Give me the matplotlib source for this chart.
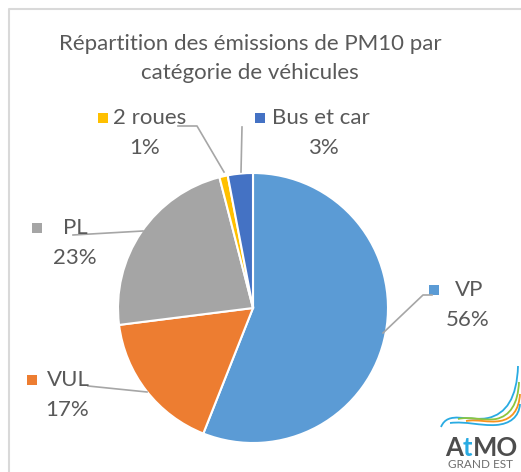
import matplotlib.pyplot as plt
from matplotlib.path import Path
from matplotlib.patches import PathPatch, Rectangle

# données
categories = ['VP', 'VUL', 'PL', '2 roues', 'Bus et car']
values = [56, 17, 23, 1, 3]
colors = ['#5B9BD5', '#ED7D31', '#A5A5A5', '#FFC000', '#4472C4']

W, H = 521, 472
TXT = '#595959'
LINE = '#A6A6A6'
FONT = 'Lato'


def fy(y):
    # coordonnées pixel (origine en haut) -> axes (origine en bas)
    return H - y


fig = plt.figure(figsize=(W / 100, H / 100), dpi=100)
ax = fig.add_axes([0, 0, 1, 1])

ax.pie(values, colors=colors, startangle=90, counterclock=False, center=(253, fy(308)),
       radius=135, wedgeprops=dict(edgecolor='white', linewidth=1.5), frame=True)
ax.set_xlim(0, W)
ax.set_ylim(0, H)
ax.set_aspect('equal')
ax.axis('off')

# cadre du graphique
ax.plot([9, 9, W + 5], [fy(H + 5), fy(9), fy(9)], color='#D9D9D9', lw=1.5)

ax.text(250, fy(44), 'Répartition des émissions de PM10 par', ha='center', va='center',
        fontsize=16, color=TXT, family=FONT)
ax.text(250, fy(73), 'catégorie de véhicules', ha='center', va='center',
        fontsize=16, color=TXT, family=FONT)

# étiquettes : (carré x, y texte nom, x nom, x pourcentage)
labels = {
    'VP': (434, 290, 455, 468),
    'VUL': (32, 380, 47, 67),
    'PL': (37, 228, 63, 75),
    '2 roues': (103, 118, 113, 145),
    'Bus et car': (260, 118, 272, 323),
}
for cat, val, col in zip(categories, values, colors):
    sx, ty, nx, px = labels[cat]
    ax.add_patch(Rectangle((sx - 5, fy(ty) - 5), 10, 10, color=col, lw=0))
    ax.text(nx, fy(ty), cat, ha='left', va='center', fontsize=16, color=TXT, family=FONT)
    ax.text(px, fy(ty + 30), f'{val}%', ha='center', va='center', fontsize=16, color=TXT,
            family=FONT)

# lignes de rappel
leaders = [
    ([432, 423, 383], [295, 295, 333]),
    ([88, 147], [386, 392]),
    ([73, 143], [235, 231]),
    ([178, 197, 224], [126, 126, 172]),
    ([242, 241], [127, 172]),
]
for xs, ys in leaders:
    ax.plot(xs, [fy(v) for v in ys], color=LINE, lw=1.2)

# logo AtMO Grand Est
ax.add_patch(Rectangle((433, fy(472)), 88, 105, color='white', lw=0, zorder=3))
swooshes = [
    ('#29ABE2', [(441, 427), (448, 410), (468, 422), (488, 418), (506, 414), (517, 398), (518, 366)]),
    ('#8CC63F', [(458, 419), (470, 416), (482, 421), (496, 419), (510, 416), (518, 404), (519, 382)]),
    ('#F7941D', [(466, 421), (478, 419), (488, 423), (500, 421), (512, 419), (519, 410), (520, 394)]),
    ('#29ABE2', [(450, 423), (466, 421), (480, 426), (496, 425), (510, 424), (519, 417), (520, 404)]),
]
for col, pts in swooshes:
    verts = [(x, fy(y)) for x, y in pts]
    codes = [Path.MOVETO] + [Path.CURVE4] * 6
    ax.add_patch(PathPatch(Path(verts, codes), fill=False, edgecolor=col, lw=1.3, zorder=4))

ax.text(445, fy(456), 'A', ha='left', va='baseline', fontsize=18.5, fontweight='bold',
        color='#4D4D4D', family=FONT, zorder=5)
ax.text(462.5, fy(456), 't', ha='left', va='baseline', fontsize=18.5, fontweight='bold',
        color='#29ABE2', family=FONT, zorder=5)
ax.text(472.5, fy(456), 'MO', ha='left', va='baseline', fontsize=18.5, fontweight='bold',
        color='#4D4D4D', family=FONT, zorder=5)
ax.text(481, fy(465), 'GRAND EST', ha='center', va='center', fontsize=8.5,
        color='#6D6D6D', family=FONT, zorder=5)

fig.savefig('out.png', dpi=100)
